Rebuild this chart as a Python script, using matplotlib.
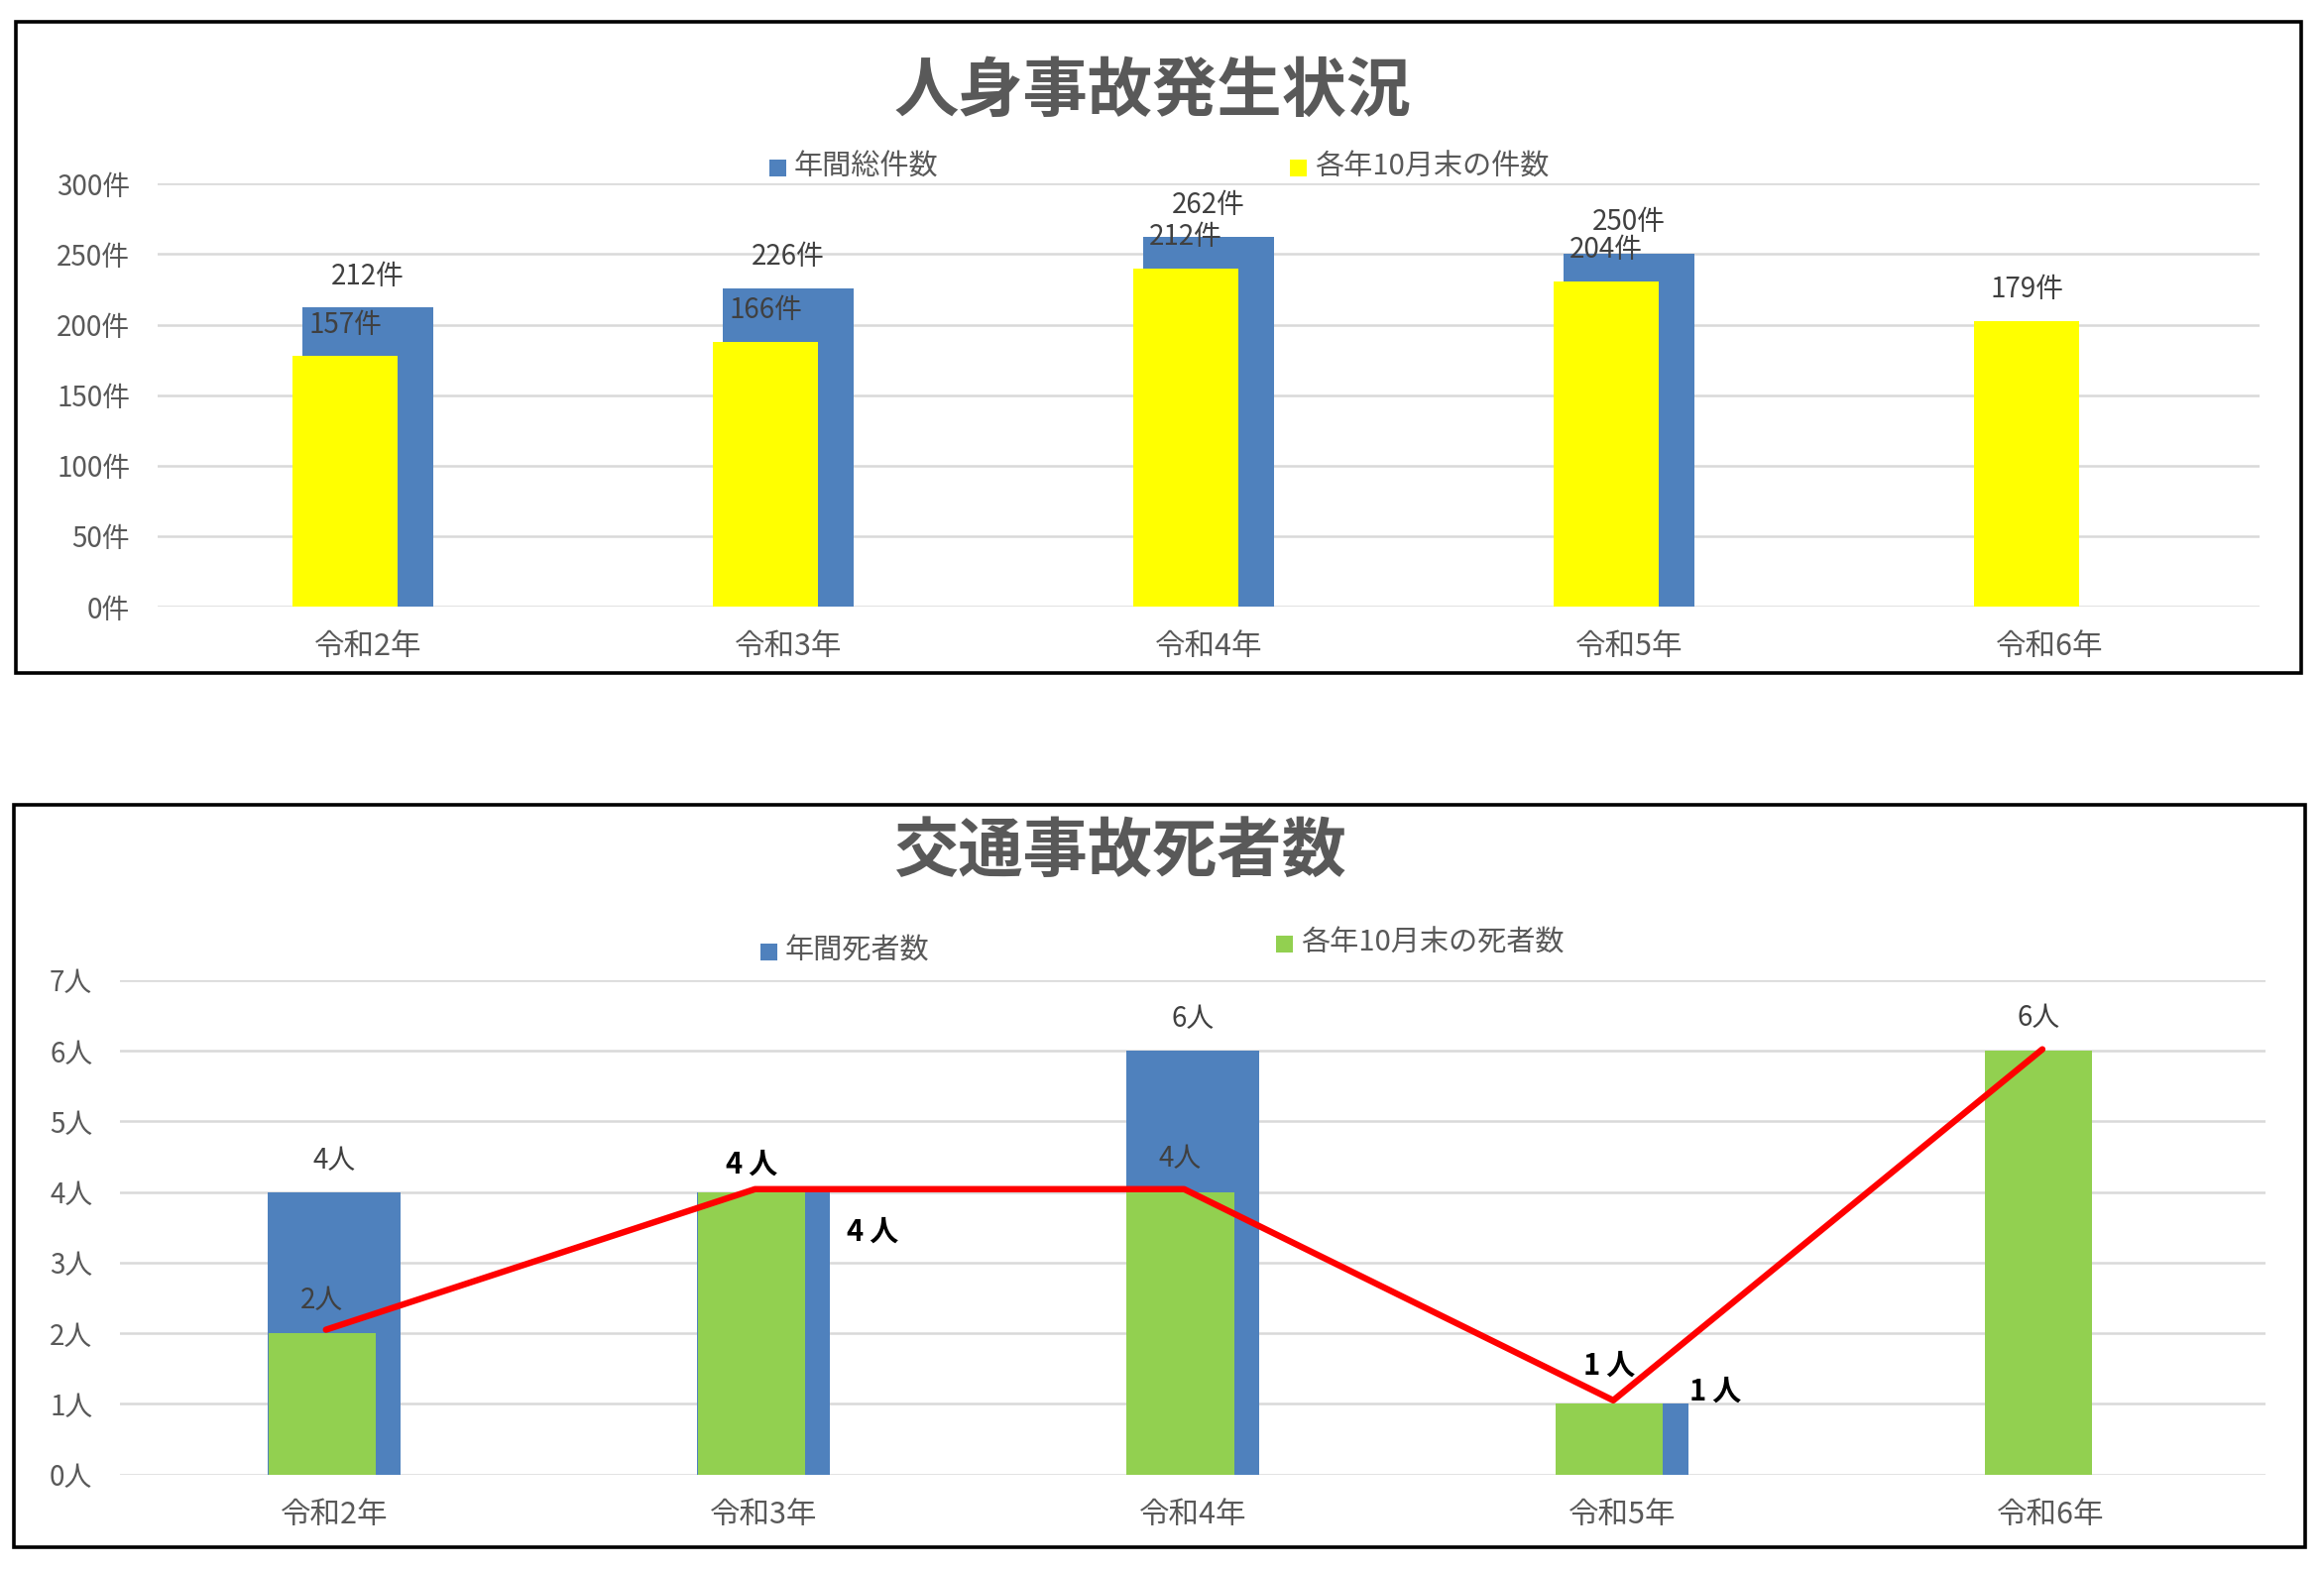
import numpy as np
import matplotlib
matplotlib.use("Agg")
import matplotlib.pyplot as plt
from matplotlib.patches import Rectangle

plt.rcParams["font.family"] = ["Noto Sans CJK JP", "DejaVu Sans"]

# --- data ---
years = ["令和2年", "令和3年", "令和4年", "令和5年", "令和6年"]

# 人身事故発生状況
accidents_total = [212, 226, 262, 250]          # 年間総件数 (no 令和6 yet)
accidents_oct = [157, 166, 212, 204, 179]       # 各年10月末の件数 (secondary scale)
accident_ticks = [0, 50, 100, 150, 200, 250, 300]

# 交通事故死者数
deaths_total = [4, 4, 6, 1]                     # 年間死者数
deaths_oct = [2, 4, 4, 1, 6]                    # 各年10月末の死者数
deaths_line = [2.05, 4.04, 4.04, 1.05, 6.02]    # red overlay line
death_ticks = [0, 1, 2, 3, 4, 5, 6, 7]

BLUE = "#4F81BD"
YELLOW = "#FFFF00"
GREEN = "#92D050"
GRID = "#D9D9D9"
TICK = "#595959"
LABEL = "#404040"

W, H = 2344, 1583


def fx(x):
    return x / W


def fy(y):
    return 1 - y / H


def axes_at(fig, left, right, y0, ytop):
    return fig.add_axes([fx(left), fy(y0), fx(right - left), (y0 - ytop) / H])


def style_axes(ax, ticks, unit, ylim):
    ax.set_xlim(-0.5, len(years) - 0.5)
    ax.set_ylim(*ylim)
    ax.set_yticks(ticks)
    ax.set_yticklabels([f"{t}{unit}" for t in ticks])
    ax.set_xticks(range(len(years)))
    ax.set_xticklabels(years)
    ax.tick_params(axis="y", length=0, pad=20, labelsize=20, labelcolor=TICK)
    ax.tick_params(axis="x", length=0, pad=18, labelsize=22, labelcolor=TICK)
    for s in ax.spines.values():
        s.set_visible(False)
    ax.grid(axis="y", color=GRID, linewidth=1.8)
    ax.set_axisbelow(True)


def legend_item(fig, x, y, color, text):
    fig.add_artist(Rectangle((fx(x), fy(y + 8.5)), fx(17), 17 / H,
                             transform=fig.transFigure, color=color, lw=0))
    fig.text(fx(x + 25), fy(y), text, fontsize=21, color=TICK, va="center", ha="left")


def frame(fig, x0, y0, x1, y1):
    fig.add_artist(Rectangle((fx(x0), fy(y1)), fx(x1 - x0), (y1 - y0) / H,
                             transform=fig.transFigure, fill=False,
                             edgecolor="black", lw=2.6))


fig = plt.figure(figsize=(W / 100, H / 100), dpi=100)
x = np.arange(len(years))

# ---------- top chart ----------
frame(fig, 16, 22, 2321, 679)
fig.text(fx(1163), fy(92), "人身事故発生状況", fontsize=47, fontweight="bold",
         color=TICK, ha="center", va="center")
legend_item(fig, 776, 169, BLUE, "年間総件数")
legend_item(fig, 1301, 169, YELLOW, "各年10月末の件数")

ax1 = axes_at(fig, 159, 2279, 612, 185.3)
style_axes(ax1, accident_ticks, "件", (0, 300))
xb = x[:len(accidents_total)]
ax1.bar(xb, accidents_total, width=0.31, color=BLUE, zorder=2)
for xi, v in zip(xb, accidents_total):
    ax1.annotate(f"{v}件", (xi, v), xytext=(0, 23), textcoords="offset points",
                 ha="center", va="center", fontsize=20, color=LABEL)

ax1b = ax1.twinx()
ax1b.set_ylim(0, 265.3)
ax1b.set_yticks([])
for s in ax1b.spines.values():
    s.set_visible(False)
xy = x - 0.054
ax1b.bar(xy, accidents_oct, width=0.25, color=YELLOW, zorder=2)
for xi, v in zip(xy, accidents_oct):
    ax1b.annotate(f"{v}件", (xi, v), xytext=(0, 23), textcoords="offset points",
                  ha="center", va="center", fontsize=20, color=LABEL)

# ---------- bottom chart ----------
frame(fig, 14, 812, 2325, 1561)
fig.text(fx(1129), fy(859), "交通事故死者数", fontsize=47, fontweight="bold",
         color=TICK, ha="center", va="center")
legend_item(fig, 767, 960, BLUE, "年間死者数")
legend_item(fig, 1287, 952, GREEN, "各年10月末の死者数")

ax2 = axes_at(fig, 121, 2285, 1487.7, 988.8)
style_axes(ax2, death_ticks, "人", (0, 7))
xb = x[:len(deaths_total)]
ax2.bar(xb, deaths_total, width=0.31, color=BLUE, zorder=2)
xg = x - 0.029
ax2.bar(xg, deaths_oct, width=0.25, color=GREEN, zorder=3)
ax2.plot(x - 0.02, deaths_line, color="#FF0000", lw=4.6, zorder=4,
         solid_capstyle="round")

# blue labels: two of them were dragged beside the bar and made bold
blue_moved = {1: (79, -29), 3: (68, 9)}
for i, (xi, v) in enumerate(zip(xb, deaths_total)):
    if i in blue_moved:
        ax2.annotate(f"{v}\u2009人", (xi, v), xytext=blue_moved[i], textcoords="offset points",
                     ha="center", va="center", fontsize=21, fontweight="bold",
                     color="black", zorder=5)
    else:
        ax2.annotate(f"{v}人", (xi, v), xytext=(0, 23), textcoords="offset points",
                     ha="center", va="center", fontsize=20, color=LABEL, zorder=5)

green_bold = {1: 20, 3: 28}
for i, (xi, v) in enumerate(zip(xg, deaths_oct)):
    if i in green_bold:
        ax2.annotate(f"{v}\u2009人", (xi, v), xytext=(0, green_bold[i]), textcoords="offset points",
                     ha="center", va="center", fontsize=21, fontweight="bold",
                     color="black", zorder=5)
    else:
        ax2.annotate(f"{v}人", (xi, v), xytext=(0, 24), textcoords="offset points",
                     ha="center", va="center", fontsize=20, color=LABEL, zorder=5)

plt.savefig("out.png", dpi=100)
plt.close()
